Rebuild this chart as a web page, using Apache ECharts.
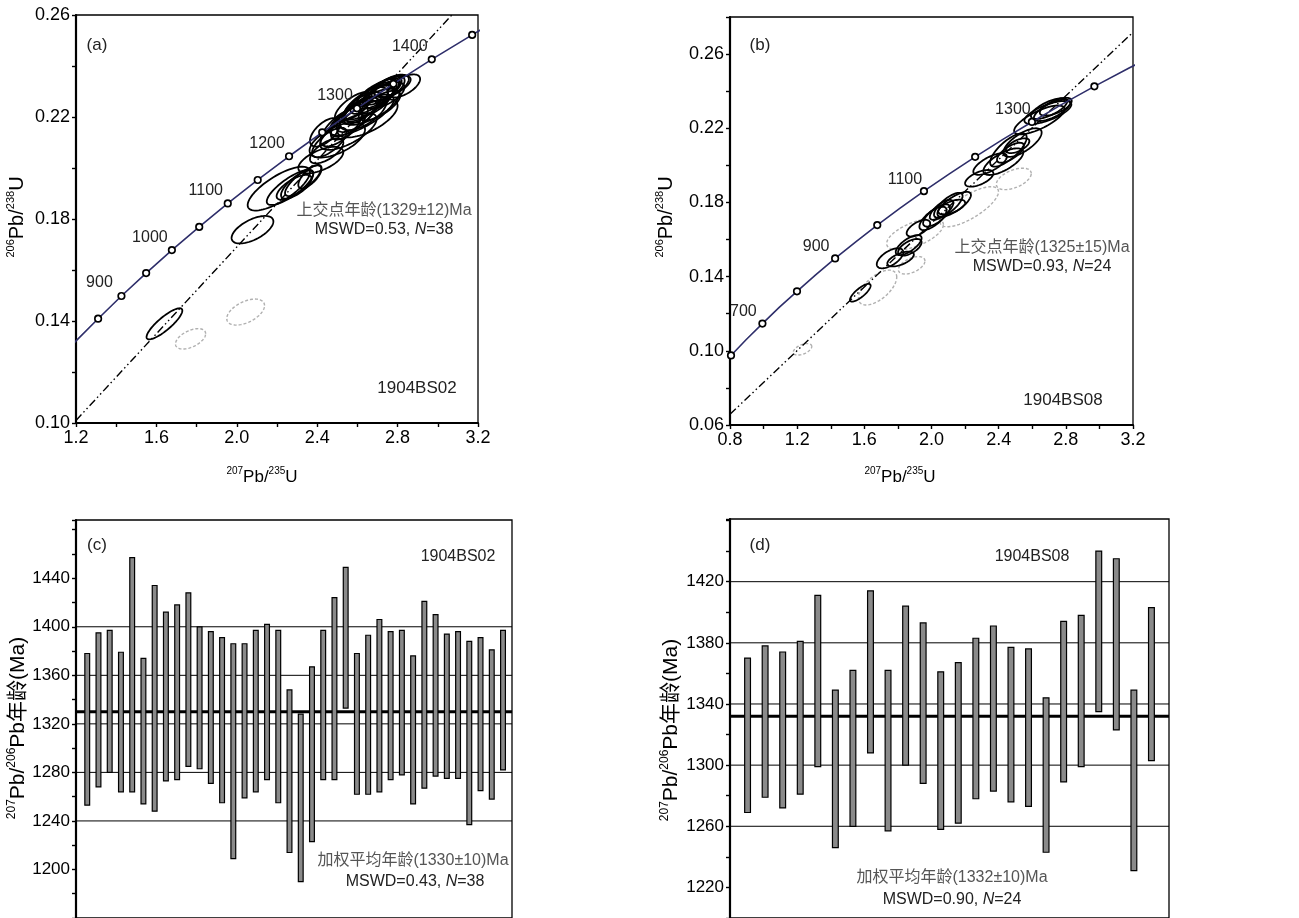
<!DOCTYPE html>
<html><head><meta charset="utf-8">
<script src="https://cdn.jsdelivr.net/npm/echarts@6/dist/echarts.min.js"></script>
<style>html,body{margin:0;padding:0;background:#fff}#c{width:1299px;height:918px}</style>
</head><body><div id="c"></div>
<script>
// ---------- Concordia curve (ages in Ma, 207Pb/235U, 206Pb/238U) ----------
const concordiaAges = [500,550,600,650,700,750,800,850,900,950,1000,1050,1100,1150,1200,1250,1300,1350,1400,1450,1500];
const concordiaX = [0.636,0.719,0.806,0.897,0.993,1.093,1.199,1.310,1.426,1.549,1.677,1.813,1.955,2.104,2.260,2.425,2.598,2.779,2.970,3.171,3.381];
const concordiaY = [0.0807,0.0891,0.0975,0.1061,0.1147,0.1234,0.1321,0.1409,0.1498,0.1588,0.1678,0.1769,0.1861,0.1953,0.2046,0.2140,0.2234,0.2330,0.2426,0.2522,0.2620];
const markAgesA = [850,900,950,1000,1050,1100,1150,1200,1250,1300,1350,1400,1450];
const labelAgesA = [900,1000,1100,1200,1300,1400];
const markAgesB = [600,700,800,900,1000,1100,1200,1300,1400];
const labelAgesB = [700,900,1100,1300];

// ---------- Discordia lines ----------
const discordiaAX = [1.2, 3.07], discordiaAY = [0.101, 0.26];
const discordiaBX = [0.8, 3.2], discordiaBY = [0.0658, 0.2718];

// ---------- Error ellipses: [cx, cy, halfX, halfY, rho] ----------
const ellipsesA = [
[1.640,0.1389,0.089,0.0061,0.85],[2.078,0.1758,0.104,0.0054,0.6],[2.209,0.1919,0.155,0.0086,0.75],
[2.265,0.1924,0.116,0.0069,0.8],[2.285,0.1924,0.087,0.0049,0.7],[2.300,0.1935,0.080,0.0055,0.75],
[2.330,0.1950,0.090,0.0060,0.8],[2.364,0.1966,0.058,0.0046,0.7],[2.418,0.2031,0.112,0.0052,0.6],
[2.447,0.2067,0.083,0.0049,0.65],[2.439,0.2140,0.075,0.0056,0.6],[2.555,0.2143,0.141,0.0072,0.7],
[2.621,0.2208,0.160,0.0080,0.75],[2.832,0.2322,0.080,0.0045,0.6],[2.700,0.2290,0.105,0.0058,0.7],
[2.720,0.2300,0.092,0.0052,0.7],[2.680,0.2275,0.115,0.0063,0.75],[2.740,0.2310,0.080,0.0048,0.65],
[2.660,0.2260,0.125,0.0069,0.75],[2.760,0.2315,0.075,0.0046,0.6],[2.640,0.2250,0.110,0.0067,0.7],
[2.710,0.2280,0.070,0.0046,0.6],[2.620,0.2235,0.098,0.0063,0.7],[2.690,0.2265,0.086,0.0058,0.65],
[2.600,0.2210,0.104,0.0069,0.7],[2.580,0.2195,0.115,0.0071,0.75],[2.670,0.2240,0.138,0.0071,0.7],
[2.730,0.2285,0.104,0.0052,0.6],[2.560,0.2180,0.092,0.0069,0.7],[2.630,0.2215,0.115,0.0067,0.65],
[2.520,0.2160,0.104,0.0075,0.7],[2.770,0.2322,0.086,0.0044,0.6],[2.500,0.2110,0.138,0.0069,0.6],
[2.460,0.2100,0.086,0.0058,0.7],[2.650,0.2195,0.150,0.0075,0.65],[2.710,0.2245,0.104,0.0058,0.7],
[2.580,0.2240,0.092,0.0058,0.7],[2.750,0.2312,0.115,0.0050,0.7]
];
const grayEllipsesA = [[1.770,0.1330,0.075,0.0040,0.5],[2.044,0.1435,0.094,0.0051,0.5]];
const ellipsesB = [
[1.576,0.1313,0.0615,0.0048,0.8],[1.753,0.1499,0.079,0.0054,0.6],[1.816,0.1495,0.079,0.0040,0.6],
[1.864,0.1570,0.077,0.0054,0.7],[1.871,0.1558,0.070,0.0045,0.6],[1.922,0.1661,0.070,0.0045,0.6],
[2.009,0.1714,0.081,0.0063,0.7],[2.030,0.1730,0.080,0.0060,0.7],[2.060,0.1760,0.070,0.0054,0.7],
[2.100,0.1785,0.085,0.0067,0.75],[2.135,0.1790,0.100,0.0067,0.75],[2.120,0.1775,0.080,0.0040,0.6],
[2.284,0.1930,0.084,0.0045,0.6],[2.349,0.2007,0.100,0.0058,0.7],[2.428,0.2020,0.119,0.0072,0.7],
[2.458,0.2083,0.109,0.0090,0.75],[2.470,0.2068,0.080,0.0054,0.7],[2.542,0.2123,0.114,0.0077,0.7],
[2.513,0.2106,0.070,0.0040,0.6],[2.642,0.2245,0.150,0.0078,0.75],[2.693,0.2285,0.140,0.0062,0.7],
[2.700,0.2306,0.108,0.0056,0.7],[2.718,0.2297,0.108,0.0058,0.7],[2.740,0.2316,0.095,0.0048,0.65]
];
const grayEllipsesB = [[1.232,0.1008,0.055,0.0031,0.5],[1.679,0.1341,0.114,0.0094,0.6],[1.882,0.1461,0.079,0.0047,0.5],
[1.902,0.1629,0.169,0.0085,0.6],[2.225,0.1777,0.174,0.0108,0.75],[2.490,0.1927,0.104,0.0058,0.5]];

// ---------- 207Pb/206Pb ages (Ma): lower / upper ends of each bar ----------
const agesCLow  = [1253,1268,1280,1264,1264,1254,1248,1273,1274,1285,1283,1271,1255,1209,1259,1264,1274,1255,1214,1190,1223,1274,1274,1333,1262,1262,1264,1274,1278,1254,1267,1277,1275,1275,1237,1265,1258,1282];
const agesCHigh = [1378,1395,1397,1379,1457,1374,1434,1412,1418,1428,1400,1396,1391,1386,1386,1397,1402,1397,1348,1328,1367,1397,1424,1449,1378,1393,1406,1396,1397,1376,1421,1410,1394,1396,1388,1391,1381,1397];
const agesDLow  = [1269,1279,1272,1281,1299,1246,1260,1308,1257,1300,1288,1258,1262,1278,1283,1276,1273,1243,1289,1299,1335,1323,1231,1303];
const agesDHigh = [1370,1378,1374,1381,1411,1349,1362,1414,1362,1404,1393,1361,1367,1383,1391,1377,1376,1344,1394,1398,1440,1435,1349,1403];
const refLinesC = [1240,1280,1320,1360,1400], meanC = 1330;
const refLinesD = [1260,1300,1340,1380,1420], meanD = 1332;

// ---------- helpers ----------
const F = '"Liberation Sans", Arial, "Noto Sans CJK SC", sans-serif';
const XC_MAX = 38.8, XD_MAX = 25;
function onStep(v, start, step){ const q=(v-start)/step; return Math.abs(q-Math.round(q))<1e-6; }

function ellRender(color, width, dash){
  return function(params, api){
    const cx=api.value(0), cy=api.value(1), sx=api.value(2), sy=api.value(3), r=api.value(4);
    const k=Math.sqrt(1-r*r), pts=[];
    for(let i=0;i<72;i++){ const t=i/72*2*Math.PI;
      pts.push(api.coord([cx+sx*Math.cos(t), cy+sy*(r*Math.cos(t)+k*Math.sin(t))])); }
    return {type:'polygon', shape:{points:pts}, style:{fill:'none', stroke:color, lineWidth:width, lineDash:dash||null}};
  };
}
function barRender(w){
  return function(params, api){
    const x=api.value(0), lo=api.value(1), hi=api.value(2);
    const p1=api.coord([x,hi]), p2=api.coord([x,lo]);
    return {type:'rect', shape:{x:p1[0]-w/2, y:p1[1], width:w, height:p2[1]-p1[1]},
      style:{fill:'#8a8a8a', stroke:'#000', lineWidth:1.2}};
  };
}
function concordiaSeries(idx, marks, labels, off){
  return {type:'line', xAxisIndex:idx, yAxisIndex:idx, clip:true, z:4, showAllSymbol:true,
    data: concordiaAges.map((a,i)=>({value:[concordiaX[i],concordiaY[i]],
      symbol: marks.includes(a)?'circle':'none', label:{show: labels.includes(a)}})),
    symbolSize:6.5, itemStyle:{color:'#fff', borderColor:'#000', borderWidth:1.7},
    lineStyle:{color:'#2e2e6a', width:1.6},
    label:{position:'inside', offset:off, fontSize:16, fontFamily:F, color:'#222',
      formatter:p=>String(concordiaAges[p.dataIndex])},
    animation:false};
}
function discSeries(idx, xs, ys){
  return {type:'line', xAxisIndex:idx, yAxisIndex:idx, symbol:'none', z:3,
    data: xs.map((x,i)=>[x,ys[i]]), lineStyle:{color:'#000', width:1.4, type:[8,3,1.5,3,1.5,3]}, animation:false};
}
function hLine(idx, xmax, v, w){
  return {type:'line', xAxisIndex:idx, yAxisIndex:idx, symbol:'none', z:2,
    data:[[0,v],[xmax,v]], lineStyle:{color:'#000', width:w}, animation:false};
}
function valAxis(idx, min, max, step, labStart, labStep, labMin, labMax, dec, fs, show){
  return {type:'value', gridIndex:idx, min:min, max:max, interval:step, show:show!==false,
    axisLine:{show:true, onZero:false, lineStyle:{color:'#000', width:2.2}},
    axisTick:{show:true, length:4, lineStyle:{color:'#000', width:1.4}},
    splitLine:{show:false},
    axisLabel:{fontSize:fs, fontFamily:F, color:'#000', margin:6,
      formatter: v => (onStep(v,labStart,labStep) && v>=labMin-1e-9 && v<=labMax+1e-9) ? v.toFixed(dec) : ''}};
}
function sup(text, x, y, rot, main, small){
  return {type:'text', x:x, y:y, rotation:rot, z:10,
    style:{text:text, align:'center', verticalAlign:'middle', fill:'#000',
      rich:{s:{fontSize:small, fontFamily:F, fill:'#000', lineHeight:main+2, verticalAlign:'top'},
            n:{fontSize:main, fontFamily:F, fill:'#000', lineHeight:main+2, verticalAlign:'bottom'}}}};
}
function txt(text, x, y, size, color, align){
  return {type:'text', x:x, y:y, z:10,
    style:{text:text, align:align||'center', verticalAlign:'middle', fill:color||'#222',
      font: size+'px '+F,
      rich:{i:{fontSize:size, fontFamily:F, fontStyle:'italic', fill:color||'#222'},
            r:{fontSize:size, fontFamily:F, fill:color||'#222'}}}};
}

const chart = echarts.init(document.getElementById('c'));
chart.setOption({
  animation:false, backgroundColor:'#fff',
  grid:[
    {left:76, top:15, width:402, height:408, show:true, borderColor:'#000', borderWidth:1.3},
    {left:730, top:17, width:403, height:408, show:true, borderColor:'#000', borderWidth:1.3},
    {left:76, top:520, width:436, height:400, show:true, borderColor:'#000', borderWidth:1.3},
    {left:730, top:519, width:439, height:401, show:true, borderColor:'#000', borderWidth:1.3}
  ],
  xAxis:[
    valAxis(0, 1.2, 3.2, 0.2, 1.2, 0.4, 1.2, 3.2, 1, 18),
    valAxis(1, 0.8, 3.2, 0.2, 0.8, 0.4, 0.8, 3.2, 1, 18),
    {type:'value', gridIndex:2, min:0, max:XC_MAX, show:false},
    {type:'value', gridIndex:3, min:0, max:XD_MAX, show:false}
  ],
  yAxis:[
    valAxis(0, 0.10, 0.26, 0.02, 0.10, 0.04, 0.10, 0.26, 2, 18),
    valAxis(1, 0.06, 0.28, 0.02, 0.06, 0.04, 0.06, 0.26, 2, 18),
    valAxis(2, 1160, 1488, 20, 1200, 40, 1200, 1440, 0, 17),
    valAxis(3, 1200, 1461, 20, 1220, 40, 1220, 1420, 0, 17)
  ],
  series:[
    concordiaSeries(0, markAgesA, labelAgesA, [-22,-13]),
    concordiaSeries(1, markAgesB, labelAgesB, [-19,-12]),
    discSeries(0, discordiaAX, discordiaAY),
    discSeries(1, discordiaBX, discordiaBY),
    {type:'custom', xAxisIndex:0, yAxisIndex:0, z:3, data:grayEllipsesA, renderItem:ellRender('#b0b0b0',1.4,[3,2])},
    {type:'custom', xAxisIndex:0, yAxisIndex:0, z:3, data:ellipsesA, renderItem:ellRender('#000',1.8)},
    {type:'custom', xAxisIndex:1, yAxisIndex:1, z:3, data:grayEllipsesB, renderItem:ellRender('#b0b0b0',1.4,[3,2])},
    {type:'custom', xAxisIndex:1, yAxisIndex:1, z:3, data:ellipsesB, renderItem:ellRender('#000',1.8)},
    ...refLinesC.map(v=>hLine(2, XC_MAX, v, 1)),
    hLine(2, XC_MAX, meanC, 3),
    ...refLinesD.map(v=>hLine(3, XD_MAX, v, 1)),
    hLine(3, XD_MAX, meanD, 3),
    {type:'custom', xAxisIndex:2, yAxisIndex:2, z:3, data:agesCLow.map((l,i)=>[i+1,l,agesCHigh[i]]), renderItem:barRender(4.8)},
    {type:'custom', xAxisIndex:3, yAxisIndex:3, z:3, data:agesDLow.map((l,i)=>[i+1,l,agesDHigh[i]]), renderItem:barRender(5.8)}
  ],
  graphic:[
    sup('{s|206}{n|Pb/}{s|238}{n|U}', 16, 217, Math.PI/2, 20, 11),
    sup('{s|206}{n|Pb/}{s|238}{n|U}', 665, 217, Math.PI/2, 20, 11),
    sup('{s|207}{n|Pb/}{s|235}{n|U}', 262, 476, 0, 17, 10),
    sup('{s|207}{n|Pb/}{s|235}{n|U}', 900, 476, 0, 17, 10),
    sup('{s|207}{n|Pb/}{s|206}{n|Pb年龄(Ma)}', 17, 728, Math.PI/2, 21, 12),
    sup('{s|207}{n|Pb/}{s|206}{n|Pb年龄(Ma)}', 670, 730, Math.PI/2, 21, 12),
    txt('(a)', 97, 45, 17, '#222'),
    txt('(b)', 760, 45, 17, '#222'),
    txt('(c)', 97, 545, 17, '#222'),
    txt('(d)', 760, 545, 17, '#222'),
    txt('上交点年龄(1329±12)Ma', 384, 211, 16, '#555'),
    txt('{r|MSWD=0.53, }{i|N}{r|=38}', 384, 230, 16, '#222'),
    txt('1904BS02', 417, 388, 17, '#222'),
    txt('上交点年龄(1325±15)Ma', 1042, 248, 16, '#555'),
    txt('{r|MSWD=0.93, }{i|N}{r|=24}', 1042, 267, 16, '#222'),
    txt('1904BS08', 1063, 400, 17, '#222'),
    txt('1904BS02', 458, 557, 16, '#222'),
    txt('加权平均年龄(1330±10)Ma', 413, 861, 16, '#555'),
    txt('{r|MSWD=0.43, }{i|N}{r|=38}', 415, 882, 16, '#222'),
    txt('1904BS08', 1032, 557, 16, '#222'),
    txt('加权平均年龄(1332±10)Ma', 952, 878, 16, '#555'),
    txt('{r|MSWD=0.90, }{i|N}{r|=24}', 952, 900, 16, '#222')
  ]
});
</script></body></html>
